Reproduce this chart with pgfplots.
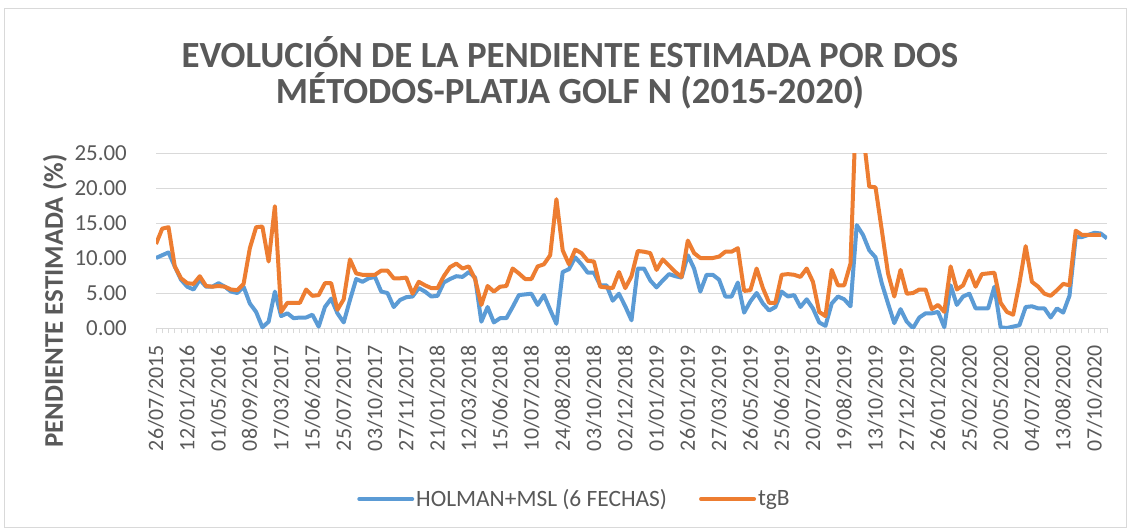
\documentclass[border=0pt]{standalone}
\usepackage{fontspec}
\setmainfont{Carlito}
\usepackage{pgfplots}
\pgfplotsset{compat=1.18}
\definecolor{textgray}{HTML}{595959}
\definecolor{gridgray}{HTML}{D9D9D9}
\definecolor{sblue}{HTML}{5B9BD5}
\definecolor{sorange}{HTML}{ED7D31}
\begin{document}
\begin{tikzpicture}
\useasboundingbox (0,0) rectangle (1130bp,-531bp);
\fill[white] (0,0) rectangle (1130bp,-531bp);
\draw[gridgray, line width=1bp] (4bp,-8bp) rectangle (1126bp,-527bp);
\node[anchor=base, text=textgray, font=\fontsize{37}{44}\selectfont\bfseries] at (570bp,-67.5bp) {EVOLUCIÓN DE LA PENDIENTE ESTIMADA POR DOS};
\node[anchor=base, text=textgray, font=\fontsize{37}{44}\selectfont\bfseries] at (570bp,-103bp) {MÉTODOS-PLATJA GOLF N (2015-2020)};
\node[rotate=90, text=textgray, font=\fontsize{27}{31}\selectfont\bfseries] at (55bp,-301bp) {PENDIENTE ESTIMADA (\%)};
\begin{axis}[
  at={(156bp,-328bp)}, anchor=south west,
  scale only axis, width=951bp, height=175bp,
  xmin=0, xmax=152, ymin=0, ymax=25,
  axis lines*=left,
  axis line style={draw=none},
  ymajorgrids, grid style={draw=gridgray, line width=1bp},
  ytick={0,5,...,25},
  ytick style={draw=none},
  yticklabel style={font=\fontsize{23}{27}\selectfont, text=textgray, anchor=east, inner sep=0pt, xshift=-24bp,
    /pgf/number format/.cd, fixed, fixed zerofill, precision=2, assume math mode=true},
  xtick={0,5,...,150},
  minor xtick={0,...,152},
  tick align=outside,
  xtick style={draw=gridgray, line width=1bp},
  major tick length=5bp, minor tick length=5bp,
  xticklabels={26/07/2015,12/01/2016,01/05/2016,08/09/2016,17/03/2017,15/06/2017,25/07/2017,03/10/2017,27/11/2017,21/01/2018,12/03/2018,15/06/2018,10/07/2018,24/08/2018,03/10/2018,02/12/2018,01/01/2019,26/01/2019,27/03/2019,26/05/2019,25/06/2019,20/07/2019,19/08/2019,13/10/2019,27/12/2019,26/01/2020,25/02/2020,20/05/2020,04/07/2020,13/08/2020,07/10/2020},
  xticklabel style={font=\fontsize{22}{26}\selectfont, text=textgray, yshift=-12bp, rotate=90, anchor=east, inner sep=0pt},
  legend columns=2,
  legend style={at={(axis description cs:0.440,-0.977)}, anchor=center, draw=none, fill=none,
    font=\fontsize{23.5}{27}\selectfont, text=textgray,
    /tikz/every even column/.append style={column sep=30bp}},
  legend image code/.code={\draw[#1, line width=4bp, line cap=round] (0bp,0bp) -- (53bp,0bp);},
]
\addplot[sblue, line width=4bp, line join=round] table {
0 10.0
1 10.4
2 10.8
3 8.8
4 6.9
5 5.9
6 5.5
7 6.9
8 5.9
9 5.9
10 6.4
11 5.9
12 5.2
13 5.0
14 5.9
15 3.5
16 2.3
17 0.1
18 0.9
19 5.2
20 1.7
21 2.1
22 1.4
23 1.5
24 1.5
25 1.9
26 0.2
27 3.0
28 4.2
29 2.1
30 0.8
31 4.0
32 7.0
33 6.6
34 7.1
35 7.3
36 5.2
37 5.0
38 3.0
39 4.0
40 4.4
41 4.5
42 5.7
43 5.2
44 4.5
45 4.6
46 6.5
47 7.0
48 7.4
49 7.3
50 8.0
51 7.2
52 0.9
53 3.0
54 0.8
55 1.4
56 1.4
57 3.0
58 4.7
59 4.8
60 4.9
61 3.3
62 4.7
63 2.6
64 0.6
65 8.0
66 8.4
67 10.1
68 9.1
69 7.9
70 7.9
71 6.1
72 6.1
73 3.9
74 4.9
75 3.1
76 1.1
77 8.5
78 8.5
79 6.8
80 5.8
81 6.8
82 7.7
83 7.4
84 7.2
85 10.4
86 8.5
87 5.2
88 7.6
89 7.6
90 6.9
91 4.5
92 4.5
93 6.5
94 2.2
95 3.8
96 5.0
97 3.5
98 2.5
99 3.0
100 5.2
101 4.5
102 4.7
103 3.0
104 4.1
105 2.8
106 0.8
107 0.3
108 3.5
109 4.5
110 4.1
111 3.1
112 14.7
113 13.3
114 11.1
115 10.1
116 6.4
117 3.5
118 0.7
119 2.7
120 0.9
121 0.0
122 1.5
123 2.1
124 2.1
125 2.3
126 0.1
127 6.1
128 3.3
129 4.5
130 4.9
131 2.8
132 2.8
133 2.8
134 5.9
135 0.1
136 0.0
137 0.2
138 0.4
139 3.0
140 3.1
141 2.8
142 2.8
143 1.5
144 2.8
145 2.2
146 4.6
147 13.0
148 13.0
149 13.3
150 13.6
151 13.5
152 12.8
};
\addlegendentry{HOLMAN+MSL (6 FECHAS)}
\addplot[sorange, line width=4bp, line join=round] table {
0 12.0
1 14.2
2 14.4
3 8.8
4 7.1
5 6.4
6 6.3
7 7.4
8 6.0
9 5.9
10 6.0
11 5.9
12 5.5
13 5.4
14 6.3
15 11.4
16 14.4
17 14.5
18 9.5
19 17.4
20 2.3
21 3.6
22 3.6
23 3.6
24 5.5
25 4.6
26 4.7
27 6.4
28 6.4
29 2.6
30 4.1
31 9.8
32 7.8
33 7.6
34 7.6
35 7.6
36 8.2
37 8.2
38 7.1
39 7.1
40 7.2
41 4.9
42 6.6
43 6.1
44 5.7
45 5.7
46 7.4
47 8.7
48 9.2
49 8.5
50 8.8
51 7.0
52 3.3
53 6.0
54 5.2
55 5.9
56 6.0
57 8.5
58 7.8
59 7.0
60 7.0
61 8.8
62 9.1
63 10.4
64 18.4
65 11.1
66 9.1
67 11.2
68 10.7
69 9.6
70 9.5
71 5.9
72 5.8
73 5.7
74 8.0
75 5.7
76 7.4
77 11.0
78 10.9
79 10.7
80 8.3
81 9.8
82 8.9
83 8.0
84 7.3
85 12.5
86 10.7
87 10.0
88 10.0
89 10.0
90 10.2
91 10.9
92 10.9
93 11.4
94 5.3
95 5.4
96 8.5
97 5.7
98 3.6
99 3.6
100 7.6
101 7.7
102 7.6
103 7.3
104 8.5
105 6.6
106 2.3
107 1.7
108 8.3
109 6.1
110 6.1
111 9.2
112 34.0
113 28.0
114 20.2
115 20.1
116 14.0
117 7.8
118 4.5
119 8.3
120 4.9
121 5.0
122 5.5
123 5.5
124 2.7
125 3.3
126 2.3
127 8.8
128 5.5
129 6.1
130 8.2
131 5.9
132 7.7
133 7.8
134 7.9
135 3.6
136 2.3
137 1.9
138 6.4
139 11.7
140 6.6
141 5.9
142 4.9
143 4.6
144 5.4
145 6.3
146 6.1
147 13.9
148 13.3
149 13.3
150 13.3
151 13.3
};
\addlegendentry{tgB}
\end{axis}
\end{tikzpicture}
\end{document}
